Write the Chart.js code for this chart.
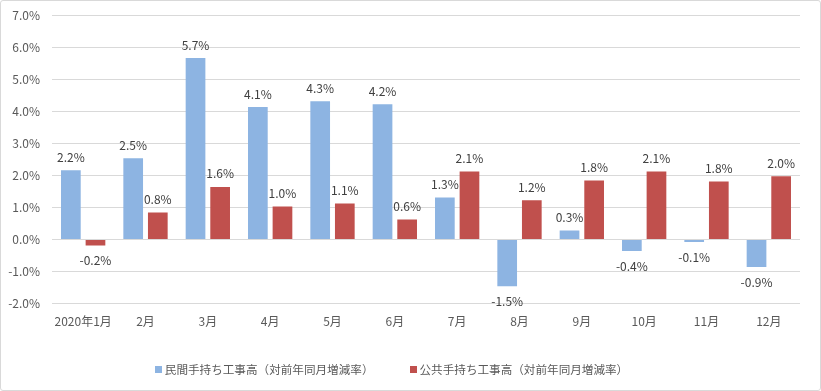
<!DOCTYPE html>
<html lang="ja">
<head>
<meta charset="utf-8">
<script src="https://cdn.jsdelivr.net/npm/chart.js@4.4.1/dist/chart.umd.min.js"></script>
<style>
  html, body { margin: 0; padding: 0; background: #fff; }
  #wrap {
    position: relative; width: 821px; height: 391px; box-sizing: border-box;
    border: 1px solid #d9d9d9; border-radius: 3px; background: #fff;
    font-family: "Noto Sans CJK JP", "Noto Sans", sans-serif;
  }
  #legend {
    position: absolute; left: 0; top: 358px; width: 781px;
    display: flex; justify-content: center; gap: 36px;
    font-size: 11.6px; color: #595959; line-height: 20px;
  }
  #legend span.box { display: inline-block; width: 7px; height: 7px; margin-right: 3px; vertical-align: 1px; }
</style>
</head>
<body>
<div id="wrap">
  <canvas id="chartHand"></canvas>
  <div id="legend"></div>
</div>
<script>
// ── DATA ─────────────────────────────────────────────
const months = ['2020年1月','2月','3月','4月','5月','6月','7月','8月','9月','10月','11月','12月'];
const privateRate = [2.16, 2.53, 5.66, 4.13, 4.31, 4.22, 1.31, -1.46, 0.28, -0.36, -0.08, -0.86];
const publicRate  = [-0.19, 0.84, 1.64, 1.03, 1.12, 0.62, 2.12, 1.22, 1.84, 2.12, 1.81, 1.97];
const seriesNames = ['民間手持ち工事高（対前年同月増減率）', '公共手持ち工事高（対前年同月増減率）'];
const yMin = -2, yMax = 7, yStep = 1;

const COLORS = { blue: '#8db4e2', red: '#c0504d', grid: '#d9d9d9', tick: '#595959', label: '#404040' };
const FONT = '"Noto Sans CJK JP", "Noto Sans", sans-serif';

// ── DATA LABELS (above positive bars, below negative ones) ──
const barLabels = {
  id: 'barLabels',
  afterDatasetsDraw(chart) {
    const ctx = chart.ctx;
    ctx.save();
    ctx.font = '12px ' + FONT;
    ctx.fillStyle = COLORS.label;
    ctx.textAlign = 'center';
    ctx.textBaseline = 'middle';
    chart.data.datasets.forEach((ds, i) => {
      chart.getDatasetMeta(i).data.forEach((bar, j) => {
        const v = ds.data[j];
        const y = v >= 0 ? bar.y - 13 : bar.y + 15;
        ctx.fillText(v.toFixed(1) + '%', bar.x, y);
      });
    });
    ctx.restore();
  }
};

const chart = new Chart(document.getElementById('chartHand'), {
  type: 'bar',
  data: {
    labels: months,
    datasets: [
      { label: seriesNames[0], data: privateRate, backgroundColor: COLORS.blue },
      { label: seriesNames[1], data: publicRate,  backgroundColor: COLORS.red },
    ]
  },
  options: {
    responsive: true, maintainAspectRatio: false, animation: false,
    datasets: { bar: { categoryPercentage: 0.79, barPercentage: 0.8 } },
    layout: { padding: { left: 0, right: 20, top: 14, bottom: 50 } },
    plugins: { legend: { display: false }, tooltip: { enabled: false } },
    scales: {
      x: {
        grid: { display: false, drawTicks: false },
        border: { display: false },
        ticks: { color: COLORS.tick, font: { family: FONT, size: 12 }, padding: 11, maxRotation: 0 }
      },
      y: {
        min: yMin, max: yMax,
        grid: { color: COLORS.grid, drawTicks: false },
        border: { display: false },
        ticks: {
          stepSize: yStep, color: COLORS.tick, padding: 12,
          font: { family: FONT, size: 12 },
          callback: v => v.toFixed(1) + '%'
        },
        afterFit: s => { s.width = 51; s.paddingTop = 0; s.paddingBottom = 0; }
      }
    }
  },
  plugins: [barLabels]
});

// ── LEGEND ───────────────────────────────────────────
document.getElementById('legend').innerHTML = chart.data.datasets.map(ds =>
  `<div><span class="box" style="background:${ds.backgroundColor}"></span>${ds.label}</div>`
).join('');
</script>
</body>
</html>
